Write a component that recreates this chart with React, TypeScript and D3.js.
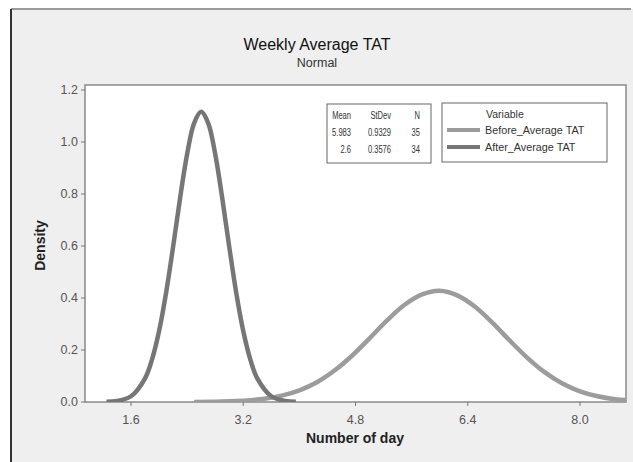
import React from 'react';
import * as d3 from 'd3';

// x / density pairs
const afterX = [1.25, 1.4, 1.6, 1.8, 1.9, 2.0, 2.1, 2.2, 2.3, 2.4, 2.5, 2.6, 2.7, 2.8, 2.9, 3.0, 3.1, 3.2, 3.3, 3.4, 3.6, 3.8, 3.95];
const afterY = [0.001, 0.004, 0.022, 0.091, 0.164, 0.273, 0.42, 0.597, 0.785, 0.954, 1.073, 1.116, 1.073, 0.954, 0.785, 0.597, 0.42, 0.273, 0.164, 0.091, 0.022, 0.004, 0.001];

const beforeX = [2.5, 3.0, 3.5, 3.75, 4.0, 4.25, 4.5, 4.75, 5.0, 5.25, 5.5, 5.75, 6.0, 6.25, 6.5, 6.75, 7.0, 7.25, 7.5, 7.75, 8.0, 8.25, 8.5, 9.0];
const beforeY = [0.0004, 0.0026, 0.0124, 0.0244, 0.0447, 0.076, 0.121, 0.178, 0.245, 0.314, 0.374, 0.414, 0.428, 0.41, 0.367, 0.305, 0.236, 0.17, 0.114, 0.071, 0.041, 0.022, 0.011, 0.0023];

const xTicks = [1.6, 3.2, 4.8, 6.4, 8.0];
const yTicks = [0, 0.2, 0.4, 0.6, 0.8, 1.0, 1.2];

const statHeader = ['Mean', 'StDev', 'N'];
const statRows = [
    ['5.983', '0.9329', '35'],
    ['2.6', '0.3576', '34'],
];
const seriesNames = ['Before_Average TAT', 'After_Average TAT'];
const seriesColors = ['#9c9c9c', '#767676'];

const font = 'Liberation Sans, Arial, sans-serif';

export default function App() {
    const left = 85, right = 626, top = 85, bottom = 402;

    const x = d3.scaleLinear().domain([0.944, 8.656]).range([left, right]);
    const y = d3.scaleLinear().domain([0, 1.2]).range([bottom, 90]);

    const line = d3.line<[number, number]>()
        .x(d => x(d[0]))
        .y(d => y(d[1]))
        .curve(d3.curveCatmullRom);

    const before = beforeX.map((v, i) => [v, beforeY[i]] as [number, number]);
    const after = afterX.map((v, i) => [v, afterY[i]] as [number, number]);

    // stats table text is narrow, squeeze it horizontally
    const sq = 0.72;
    const statCols = [351, 391, 420];

    return (
        <svg width={633} height={462} style={{ position: 'absolute', left: 0, top: 0 }} fontFamily={font}>
            <rect x={0} y={0} width={633} height={462} fill="#fff" />
            <rect x={11} y={9} width={622} height={453} fill="#efefef" />
            <line x1={11} y1={9} x2={631} y2={9} stroke="#9a9a9a" strokeWidth={2} />
            <line x1={11} y1={9} x2={11} y2={462} stroke="#333" strokeWidth={2} />

            <text x={317} y={50} textAnchor="middle" fontSize={16} fill="#111">Weekly Average TAT</text>
            <text x={317} y={67} textAnchor="middle" fontSize={12.5} fill="#333">Normal</text>

            <defs>
                <clipPath id="plot-clip">
                    <rect x={left} y={top} width={right - left} height={bottom - top} />
                </clipPath>
            </defs>
            <rect x={left} y={top} width={right - left} height={bottom - top} fill="#fff" stroke="#8a8a8a" strokeWidth={1.5} />

            <g clipPath="url(#plot-clip)">
                <path d={line(before) || ''} fill="none" stroke={seriesColors[0]} strokeWidth={4.5} />
                <path d={line(after) || ''} fill="none" stroke={seriesColors[1]} strokeWidth={4.5} />
            </g>

            {yTicks.map(t => (
                <g key={t} transform={`translate(${left}, ${y(t)})`}>
                    <line x1={-4} x2={0} stroke="#777" />
                    <text x={-7} dy="0.35em" textAnchor="end" fontSize={12.5} fill="#555">{t.toFixed(1)}</text>
                </g>
            ))}
            {xTicks.map(t => (
                <g key={t} transform={`translate(${x(t)}, ${bottom})`}>
                    <line y2={4} stroke="#777" />
                    <text y={22} textAnchor="middle" fontSize={12.5} fill="#555">{t.toFixed(1)}</text>
                </g>
            ))}

            <text x={355} y={443} textAnchor="middle" fontSize={14} fontWeight="bold" fill="#222">Number of day</text>
            <text transform={`translate(45, ${(top + bottom) / 2 + 2}) rotate(-90)`} textAnchor="middle" fontSize={14} fontWeight="bold" fill="#222">Density</text>

            <rect x={327} y={104} width={104} height={59} fill="#fff" stroke="#666" strokeWidth={1} />
            <g transform={`scale(${sq}, 1)`}>
                {statHeader.map((h, j) => (
                    <text key={h} x={statCols[j] / sq} y={119} textAnchor="end" fontSize={10.5} fill="#333">{h}</text>
                ))}
                {statRows.map((row, i) => row.map((v, j) => (
                    <text key={`${i}-${j}`} x={statCols[j] / sq} y={136 + i * 17} textAnchor="end" fontSize={10.5} fill="#333">{v}</text>
                )))}
            </g>

            <rect x={442} y={103} width={165} height={59} fill="#fff" stroke="#666" strokeWidth={1} />
            <text x={486} y={118} fontSize={10.5} fill="#333">Variable</text>
            {seriesNames.map((name, i) => (
                <g key={name} transform={`translate(0, ${130 + i * 17})`}>
                    <line x1={447} x2={480} stroke={seriesColors[i]} strokeWidth={4} />
                    <text x={485} dy="0.35em" fontSize={10.8} fill="#333">{name}</text>
                </g>
            ))}
        </svg>
    );
}
